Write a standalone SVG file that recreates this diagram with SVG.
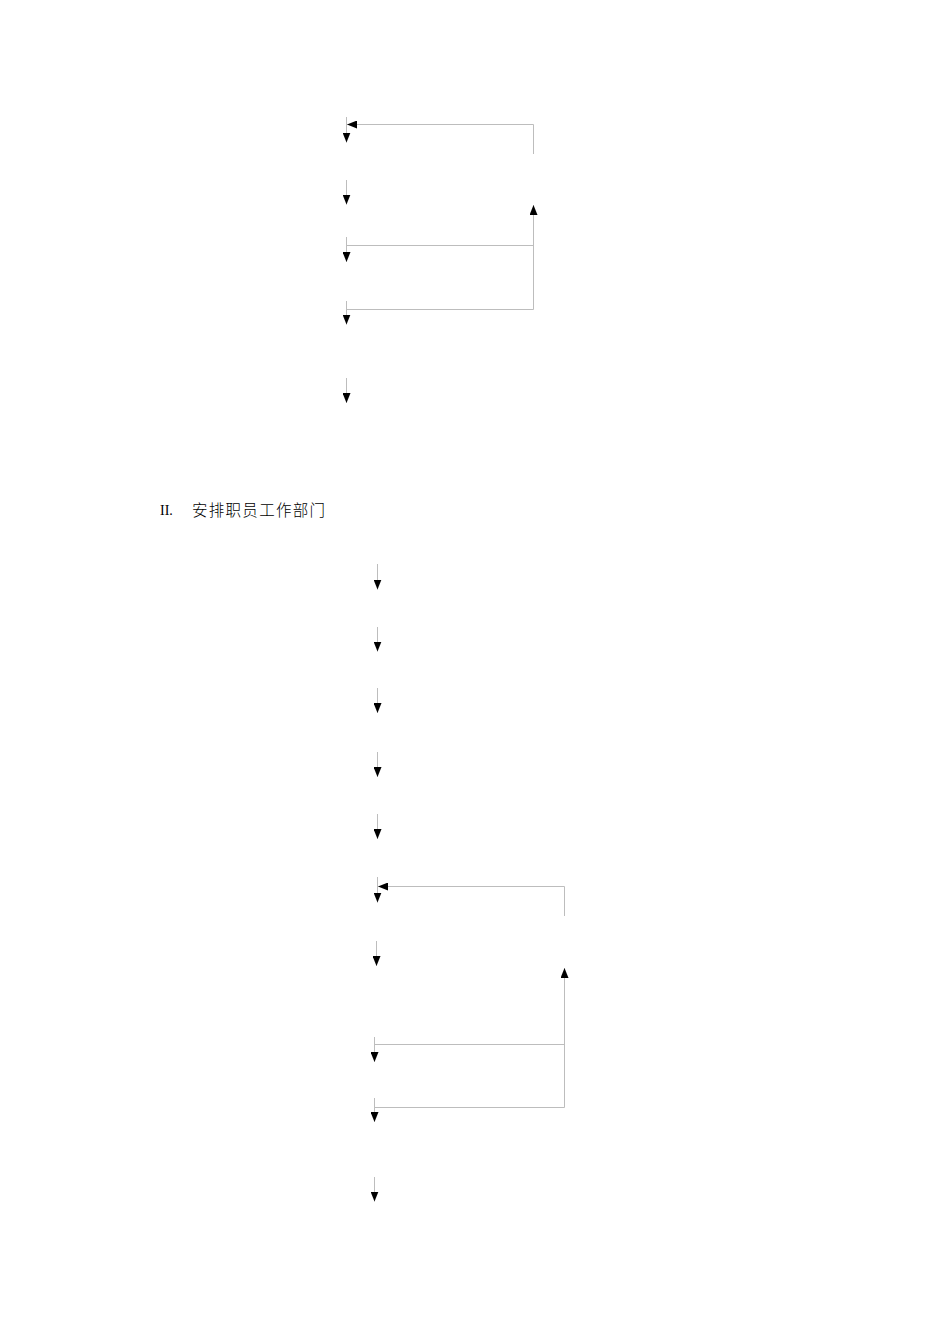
<svg xmlns="http://www.w3.org/2000/svg" width="950" height="1344" viewBox="0 0 950 1344">
<style>
.c{fill:none;stroke:#bdbdbd;stroke-width:1}
.a{marker-end:url(#ah)}
.t{font-family:"Liberation Serif","Noto Sans CJK SC",serif;font-size:14px;fill:#000}
.z{font-family:"Noto Sans CJK SC",sans-serif;font-size:15.5px;fill:#000;font-weight:300}
</style>
<defs>
<marker id="ah" viewBox="0 0 10 8" refX="10" refY="4" markerWidth="10" markerHeight="8" markerUnits="userSpaceOnUse" orient="auto">
<path d="M0,0 L10,4 L0,8 Z" fill="#000"/>
</marker>
</defs>
<rect width="950" height="1344" fill="#fff"/>
<g id="connectors">
<line class="c a" x1="346.5" y1="117" x2="346.5" y2="142.5"/>
<polyline class="c a" points="533.5,154 533.5,124.5 347,124.5"/>
<line class="c a" x1="346.5" y1="180" x2="346.5" y2="204.5"/>
<polyline class="c a" points="346.5,309.5 533.5,309.5 533.5,205"/>
<line class="c" x1="346.5" y1="245.5" x2="533.5" y2="245.5"/>
<line class="c a" x1="346.5" y1="237" x2="346.5" y2="262"/>
<line class="c a" x1="346.5" y1="301" x2="346.5" y2="324.5"/>
<line class="c a" x1="346.5" y1="378" x2="346.5" y2="403"/>

<line class="c a" x1="377.5" y1="564" x2="377.5" y2="589.5"/>
<line class="c a" x1="377.5" y1="627" x2="377.5" y2="651.5"/>
<line class="c a" x1="377.5" y1="688" x2="377.5" y2="713"/>
<line class="c a" x1="377.5" y1="752" x2="377.5" y2="777"/>
<line class="c a" x1="377.5" y1="814" x2="377.5" y2="839"/>
<line class="c a" x1="377.5" y1="877" x2="377.5" y2="902.5"/>
<polyline class="c a" points="564.5,916 564.5,886.5 378,886.5"/>
<line class="c a" x1="376.5" y1="941" x2="376.5" y2="966"/>
<polyline class="c a" points="374.5,1107.5 564.5,1107.5 564.5,968"/>
<line class="c" x1="374.5" y1="1044.5" x2="564.5" y2="1044.5"/>
<line class="c a" x1="374.5" y1="1037" x2="374.5" y2="1062"/>
<line class="c a" x1="374.5" y1="1098" x2="374.5" y2="1122"/>
<line class="c a" x1="374.5" y1="1177" x2="374.5" y2="1201.5"/>
</g>
<g id="heading">
<text class="t" x="160" y="515">II.</text>
<text class="z" x="192" y="516" textLength="133" lengthAdjust="spacing">安排职员工作部门</text>
</g>
</svg>
